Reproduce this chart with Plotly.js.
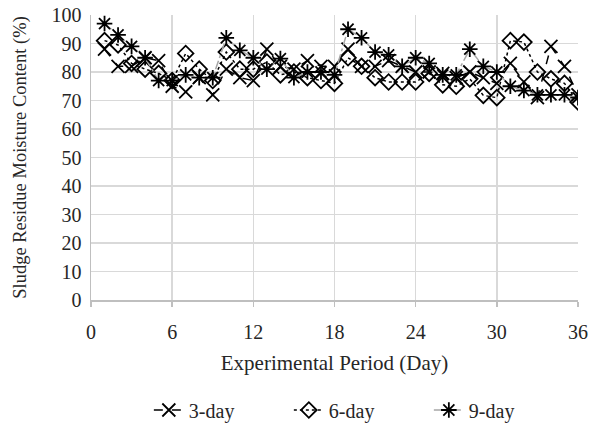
<!DOCTYPE html>
<html>
<head>
<meta charset="utf-8">
<script src="https://cdn.plot.ly/plotly-3.0.1.min.js"></script>
<style>html,body{margin:0;padding:0;background:#fff;}#chart{width:598px;height:428px;}</style>
</head>
<body>
<div id="chart"></div>
<script>
const days = [1,2,3,4,5,6,7,8,9,10,11,12,13,14,15,16,17,18,19,20,21,22,23,24,25,26,27,28,29,30,31,32,33,34,35,36];
const day3 = [88,82,82,85,84,75,73,78,72,81,78,77,88,82,81,84,82,82,88,82,82,84,82,80,80,79.5,78,80,78,76,83,76.5,71,89,82,72];
const day6 = [91,89.5,83,81,79.5,77,86.5,81,77,87,81,81,83.5,79,80,78,77,76,85,82,78,76.5,76.5,76.5,79.5,75.5,75,77.6,71.8,71,91,90.5,80,77.6,76,69.5];
const day9 = [97,93,89,85,77,77,79,78,78,92,87.6,85,81,84.7,78,80,80,79,95,92,87,86,82,85,83,79,79,88,82,80,75,73.5,72,72,72,71];
const seriesNames = ['3-day','6-day','9-day'];
const xTicks = [0,6,12,18,24,30,36];
const yTicks = [0,10,20,30,40,50,60,70,80,90,100];

const fam = '"Liberation Serif","Times New Roman",serif';
const font = {family: fam, size: 20, color: '#262626'};

const traces = [
  {x: days, y: day3, name: seriesNames[0], type: 'scatter', mode: 'lines+markers',
   line: {color: '#000', width: 1.5, dash: 'dash'},
   marker: {symbol: 'x-thin-open', size: 13, color: '#000', line: {color: '#000', width: 1.8}}},
  {x: days, y: day6, name: seriesNames[1], type: 'scatter', mode: 'lines+markers',
   line: {color: '#000', width: 1.5, dash: 'dot'},
   marker: {symbol: 'diamond-open', size: 12, color: '#000', line: {color: '#000', width: 1.8}}},
  {x: days, y: day9, name: seriesNames[2], type: 'scatter', mode: 'lines+markers',
   line: {color: '#a6a6a6', width: 1.5, dash: 'dashdot'},
   marker: {symbol: 'asterisk-open', size: 13, color: '#000', line: {color: '#000', width: 1.8}}}
];

const layout = {
  width: 598, height: 428,
  margin: {l: 91, r: 20, t: 15, b: 128, autoexpand: false},
  paper_bgcolor: '#fff', plot_bgcolor: '#fff',
  font: font,
  showlegend: true,
  legend: {orientation: 'h', x: 0.55, xanchor: 'center', y: -0.386, yanchor: 'middle',
           font: font, entrywidth: 95, entrywidthmode: 'pixels'},
  xaxis: {
    range: [0, 36], tickvals: xTicks, ticktext: xTicks.map(String),
    showgrid: true, gridcolor: '#d9d9d9', gridwidth: 1.5,
    showline: true, linecolor: '#bfbfbf', linewidth: 1.5,
    ticks: 'outside', ticklen: 5, tickcolor: '#bfbfbf', tickwidth: 1.5,
    ticklabelstandoff: 8, automargin: false,
    zeroline: false, tickfont: font,
    title: {text: 'Experimental Period (Day)', font: {family: fam, size: 21, color: '#262626'}, standoff: 14}
  },
  yaxis: {
    range: [0, 100], tickvals: yTicks, ticktext: yTicks.map(String),
    showgrid: true, gridcolor: '#d9d9d9', gridwidth: 1.5,
    showline: true, linecolor: '#bfbfbf', linewidth: 1.5,
    ticks: 'outside', ticklen: 4, tickcolor: '#ffffff', zeroline: false, tickfont: font,
    automargin: false,
    title: {text: 'Sludge Residue Moisture Content (%)', font: {family: fam, size: 18.5, color: '#262626'}, standoff: 20}
  }
};

Plotly.newPlot('chart', traces, layout, {displayModeBar: false, staticPlot: true});
</script>
</body>
</html>
